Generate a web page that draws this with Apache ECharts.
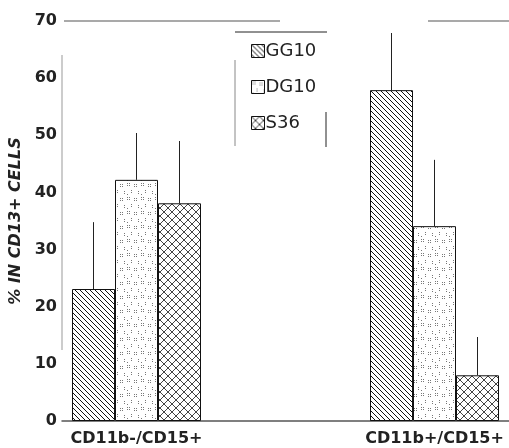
<!DOCTYPE html>
<html>
<head>
<meta charset="utf-8">
<script src="https://cdn.jsdelivr.net/npm/echarts@6/dist/echarts.min.js"></script>
<style>
html,body{margin:0;padding:0;background:#fff;}
#chart{width:509px;height:448px;}
</style>
</head>
<body>
<div id="chart"></div>
<script>
// ---- data ----
var categories = ['CD11b-/CD15+', 'CD11b+/CD15+'];
var seriesNames = ['GG10', 'DG10', 'S36'];
var gg10 = [23.1, 57.9];
var dg10 = [42.2, 34.1];
var s36 = [38.1, 8.0];
var gg10Err = [34.8, 67.9];
var dg10Err = [50.4, 45.7];
var s36Err = [49.0, 14.7];
var yTicks = [0, 10, 20, 30, 40, 50, 60, 70];

// ---- patterns ----
function makeTile(size, draw) {
  var c = document.createElement('canvas');
  c.width = size; c.height = size;
  var ctx = c.getContext('2d');
  ctx.fillStyle = '#fff';
  ctx.fillRect(0, 0, size, size);
  draw(ctx, size);
  return c;
}
var hatchTile = makeTile(5, function (ctx, n) {
  ctx.fillStyle = '#111';
  for (var i = 0; i < n; i++) ctx.fillRect(i, i, 1, 1);
});
var dotTile = makeTile(14, function (ctx) {
  ctx.fillStyle = '#777';
  var pts = [[1,1],[3,1],[1,3],[3,3],[8,2],[10,2],[8,4],[10,4],[5,8],[5,10],[12,9],[12,11],[1,12]];
  pts.forEach(function (p) { ctx.fillRect(p[0], p[1], 1, 1); });
});
var crossTile = makeTile(8, function (ctx, n) {
  ctx.fillStyle = '#444';
  for (var i = 0; i < n; i++) { ctx.fillRect(i, i, 1, 1); ctx.fillRect(i, n - 1 - i, 1, 1); }
});
var fills = [
  { image: hatchTile, repeat: 'repeat' },
  { image: dotTile, repeat: 'repeat' },
  { image: crossTile, repeat: 'repeat' }
];

// ---- build ----
var axisCats = [categories[0], '', categories[1]];
function spread(arr) { return [arr[0], null, arr[1]]; }
var values = [gg10, dg10, s36];
var errs = [gg10Err, dg10Err, s36Err];
var BAR_W = 43;

var series = [];
values.forEach(function (v, i) {
  series.push({
    name: seriesNames[i],
    type: 'bar',
    barWidth: BAR_W,
    barGap: '0%',
    data: spread(v),
    itemStyle: { color: fills[i], borderColor: '#111', borderWidth: 1 },
    silent: true
  });
});
var errData = [];
errs.forEach(function (e, i) {
  [0, 2].forEach(function (ci, k) {
    errData.push([ci, values[i][k], e[k], i]);
  });
});
series.push({
  type: 'custom',
  data: errData,
  silent: true,
  z: 5,
  renderItem: function (params, api) {
    var lo = api.coord([api.value(0), api.value(1)]);
    var hi = api.coord([api.value(0), api.value(2)]);
    var off = (api.value(3) - 1) * BAR_W;
    return {
      type: 'line',
      shape: { x1: lo[0] + off, y1: lo[1], x2: hi[0] + off, y2: hi[1] },
      style: { stroke: '#222', lineWidth: 1 }
    };
  }
});

var font = 'DejaVu Sans';
var chart = echarts.init(document.getElementById('chart'));
chart.setOption({
  animation: false,
  backgroundColor: '#fff',
  grid: { left: 62, right: 0, top: 21, bottom: 27, containLabel: false, outerBoundsMode: 'none' },
  legend: {
    data: seriesNames,
    orient: 'vertical',
    left: 246, top: 37,
    itemWidth: 13, itemHeight: 13,
    itemGap: 18,
    icon: 'rect',
    itemStyle: { borderColor: '#111', borderWidth: 1 },
    textStyle: { fontFamily: font, fontSize: 18, color: '#222', padding: [0, 0, 0, -4], lineHeight: 16 },
    selectedMode: false
  },
  xAxis: {
    type: 'category',
    data: axisCats,
    axisLine: { lineStyle: { color: '#555', width: 1.5 } },
    axisTick: { show: false },
    axisLabel: { fontFamily: font, fontWeight: 'bold', fontSize: 16, color: '#222', margin: 10, interval: 0 }
  },
  yAxis: {
    type: 'value',
    min: yTicks[0], max: yTicks[yTicks.length - 1], interval: 10,
    name: '% IN CD13+ CELLS',
    nameLocation: 'middle',
    nameGap: 33,
    nameTextStyle: { fontFamily: font, fontWeight: 'bold', fontStyle: 'italic', fontSize: 16, color: '#222' },
    axisLine: { show: false },
    axisTick: { show: false },
    splitLine: { show: false },
    axisLabel: { fontFamily: font, fontWeight: 'bold', fontSize: 16, color: '#222', margin: 5 }
  },
  graphic: [
    { type: 'line', shape: { x1: 64, y1: 21, x2: 280, y2: 21 }, style: { stroke: '#555', lineWidth: 1.2 } },
    { type: 'line', shape: { x1: 428, y1: 21, x2: 509, y2: 21 }, style: { stroke: '#555', lineWidth: 1.2 } },
    { type: 'line', shape: { x1: 62, y1: 55, x2: 62, y2: 350 }, style: { stroke: '#999', lineWidth: 1 } },
    { type: 'line', shape: { x1: 235, y1: 32, x2: 327, y2: 32 }, style: { stroke: '#222', lineWidth: 1 } },
    { type: 'line', shape: { x1: 235, y1: 60, x2: 235, y2: 146 }, style: { stroke: '#888', lineWidth: 1 } },
    { type: 'line', shape: { x1: 326, y1: 112, x2: 326, y2: 147 }, style: { stroke: '#222', lineWidth: 1 } }
  ],
  series: series
});
</script>
</body>
</html>
